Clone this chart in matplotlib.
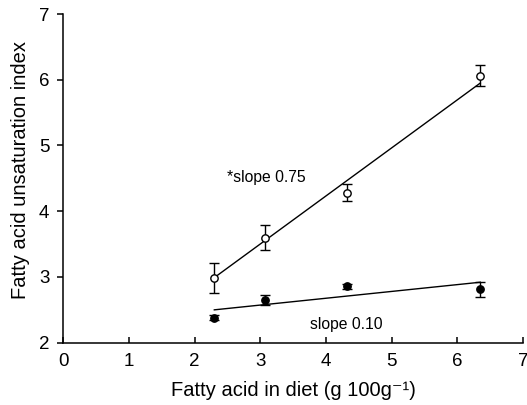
import matplotlib
matplotlib.use("Agg")
import matplotlib.pyplot as plt

plt.rcParams['font.family'] = ['Liberation Sans', 'DejaVu Sans']

x = [2.30, 3.07, 4.32, 6.35]
open_y = [2.99, 3.60, 4.28, 6.06]
open_err = [0.23, 0.19, 0.13, 0.16]
filled_y = [2.38, 2.65, 2.86, 2.81]
filled_err = [0.04, 0.07, 0.04, 0.12]
fit_x = [2.30, 6.35]
open_fit = [2.99, 5.95]
filled_fit = [2.50, 2.92]
x_ticks = [0, 1, 2, 3, 4, 5, 6, 7]
y_ticks = [2, 3, 4, 5, 6, 7]

fig = plt.figure(figsize=(5.27, 4.05), dpi=100)
ax = fig.add_axes([0.120, 0.1538, 0.8724, 0.8116])

ax.plot(fit_x, open_fit, color='black', lw=1.0, zorder=2)
ax.plot(fit_x, filled_fit, color='black', lw=1.0, zorder=2)
ax.errorbar(x, open_y, yerr=open_err, fmt='o', mfc='white', mec='black', mew=1.0,
            ms=5.3, ecolor='black', elinewidth=1.0, capsize=3.6, capthick=1.0, zorder=3)
ax.errorbar(x, filled_y, yerr=filled_err, fmt='o', mfc='black', mec='black',
            ms=5.3, ecolor='black', elinewidth=1.0, capsize=3.6, capthick=1.0, zorder=3)

ax.text(2.5, 4.52, '*slope 0.75', fontsize=11.3, ha='left', va='center')
ax.text(3.76, 2.28, 'slope 0.10', fontsize=11.3, ha='left', va='center')

ax.set_xlim(0, 7)
ax.set_ylim(2, 7)
ax.set_xticks(x_ticks)
ax.set_yticks(y_ticks)
for s in ['top', 'right']:
    ax.spines[s].set_visible(False)
for s in ['left', 'bottom']:
    ax.spines[s].set_linewidth(1.1)
ax.tick_params(axis='y', direction='out', length=4, width=1.1, labelsize=13.5, pad=6)
ax.tick_params(axis='x', direction='in', length=4, width=1.1, labelsize=13.5, pad=7.5)
ax.set_xlabel('Fatty acid in diet (g 100g\u207b\u00b9)', fontsize=14.5, labelpad=8)
ax.set_ylabel('Fatty acid unsaturation index', fontsize=14.5)
ax.yaxis.set_label_coords(-0.072, 0.525)

fig.savefig('out.png', dpi=100)
